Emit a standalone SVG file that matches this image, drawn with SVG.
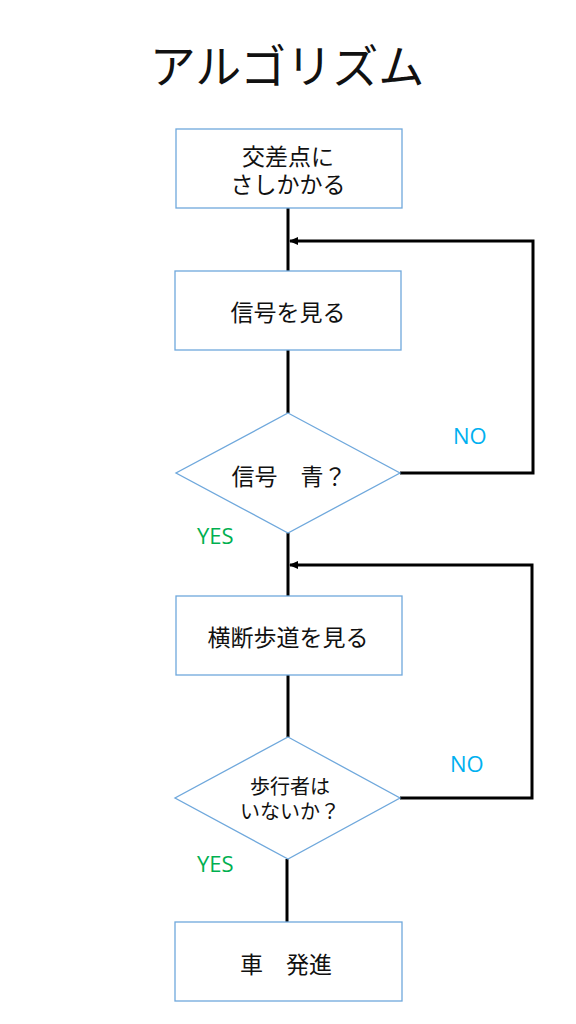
<svg xmlns="http://www.w3.org/2000/svg" width="576" height="1024" viewBox="0 0 576 1024">
<style>
.box{fill:#fff;stroke:#6fa8dc;stroke-width:1.3}
.t{font-family:"Noto Sans CJK JP","Noto Sans",sans-serif;fill:#111;text-anchor:middle;dominant-baseline:central}
.c{fill:none;stroke:#000;stroke-width:3}
.no{font-family:"Open Sans","Noto Sans",sans-serif;font-size:22px;fill:#00b0f0;dominant-baseline:central}
.yes{font-family:"Open Sans","Noto Sans",sans-serif;font-size:22px;fill:#00b050;dominant-baseline:central}
</style>
<defs>
<marker id="ah" markerWidth="10" markerHeight="10" refX="8" refY="5" orient="auto" markerUnits="userSpaceOnUse">
<path d="M0,1 L9,5 L0,9 z" fill="#000"/>
</marker>
</defs>
<rect width="576" height="1024" fill="#fff"/>
<text class="t" x="287" y="63" font-size="46" fill="#000">アルゴリズム</text>
<g id="connectors">
<line class="c" x1="288" y1="208" x2="288" y2="271"/>
<line class="c" x1="288" y1="350" x2="288" y2="413"/>
<polyline class="c" points="400,473 533,473 533,241 290,241" marker-end="url(#ah)"/>
<line class="c" x1="288" y1="533" x2="288" y2="596"/>
<line class="c" x1="288" y1="675" x2="288" y2="737"/>
<polyline class="c" points="400,798 532,798 532,565 290,565" marker-end="url(#ah)"/>
<line class="c" x1="287" y1="859" x2="287" y2="922"/>
</g>
<g id="n1">
<rect class="box" x="176" y="129" width="226" height="79"/>
<text class="t" x="288" y="155" font-size="23">交差点に</text>
<text class="t" x="288" y="183" font-size="23">さしかかる</text>
</g>
<g id="n2">
<rect class="box" x="175" y="271" width="226" height="79"/>
<text class="t" x="288" y="311" font-size="23">信号を見る</text>
</g>
<g id="d1">
<polygon class="box" points="288,413 400,473 288,533 176,473"/>
<text class="t" x="289" y="475" font-size="23">信号　青？</text>
</g>
<g id="n3">
<rect class="box" x="176" y="596" width="226" height="79"/>
<text class="t" x="288" y="636" font-size="23">横断歩道を見る</text>
</g>
<g id="d2">
<polygon class="box" points="288,737 400,798 288,859 175,798"/>
<text class="t" x="290" y="785" font-size="20">歩行者は</text>
<text class="t" x="290" y="810" font-size="20">いないか？</text>
</g>
<g id="n4">
<rect class="box" x="175" y="922" width="227" height="79"/>
<text class="t" x="286" y="963" font-size="23">車　発進</text>
</g>
<g id="labels">
<text class="no" x="453" y="435">NO</text>
<text class="no" x="450" y="763">NO</text>
<text class="yes" x="197" y="535">YES</text>
<text class="yes" x="197" y="863">YES</text>
</g>
</svg>
